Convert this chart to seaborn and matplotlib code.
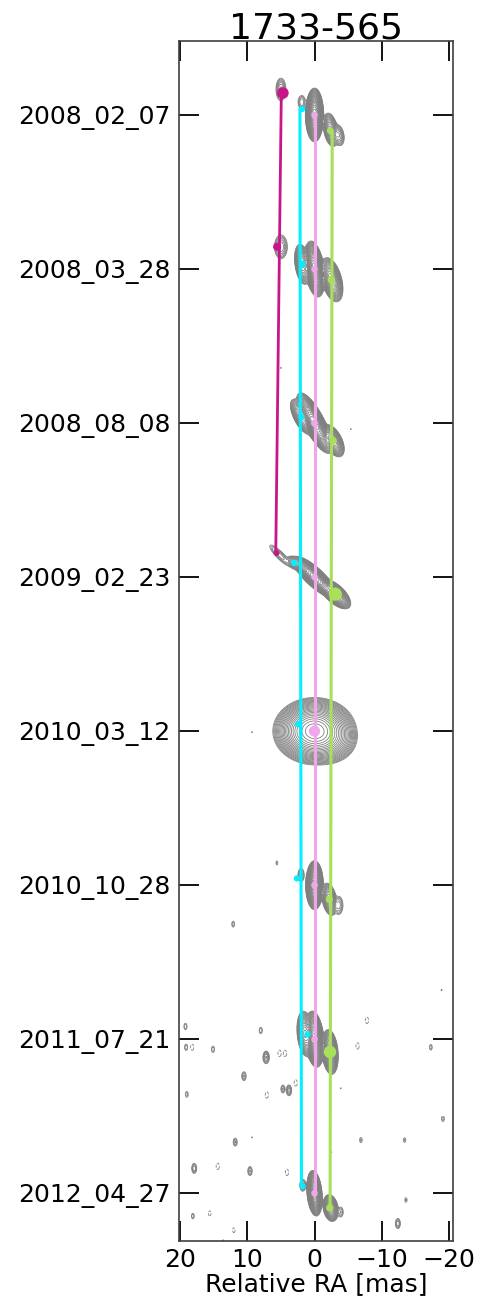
import numpy as np
import pandas as pd
import matplotlib
matplotlib.use("Agg")
import matplotlib.pyplot as plt
import seaborn as sns

# ---------------- data ----------------
source_name = "1733-565"
epoch_labels = ["2008_02_07", "2008_03_28", "2008_08_08", "2009_02_23",
                "2010_03_12", "2010_10_28", "2011_07_21", "2012_04_27"]
x_ticks = [20, 10, 0, -10, -20]
epoch_step = 22.9  # mas between stacked maps

# model-fit components (offsets in mas from each map centre), marker areas
mag_epoch = [0, 1, 3]
mag_dx = [4.71, 5.56, 5.65]
mag_dy = [3.27, 3.31, 3.57]
mag_size = [70, 35, 18]

cyan_epoch = [0, 1, 2, 3, 4, 5, 6, 7]
cyan_dx = [1.84, 1.78, 1.93, 3.03, 2.43, 2.63, 1.04, 1.78]
cyan_dy = [0.89, 0.70, 0.94, 2.10, 1.00, 1.00, 0.70, 1.04]
cyan_size = [20, 20, 20, 20, 20, 20, 20, 20]

pink_epoch = [0, 1, 2, 3, 4, 5, 6, 7]
pink_dx = [0, 0, 0, 0, 0, 0, 0, 0]
pink_dy = [0, 0, 0, 0, 0, 0, 0, 0]
pink_size = [22, 22, 25, 22, 65, 22, 22, 22]

green_epoch = [0, 1, 2, 3, 4, 5, 6, 7]
green_dx = [-2.32, -2.50, -2.77, -3.10, -2.32, -2.20, -2.30, -2.27]
green_dy = [-2.33, -1.59, -2.63, -2.53, -1.59, -2.10, -1.89, -2.18]
green_size = [22, 28, 28, 90, 5, 28, 80, 28]

# clean-image Gaussian components per epoch: epoch, dx, dy, peak, sigma_major, sigma_minor, PA(deg)
img_epoch = [0, 0, 0, 0, 0,
             1, 1, 1, 1,
             2, 2, 2, 2, 2,
             3, 3, 3, 3,
             4, 4, 4,
             5, 5, 5, 5, 5, 5,
             6, 6, 6, 6, 6, 6, 6, 6, 6, 6, 6, 6, 6, 6, 6, 6, 6, 6, 6, 6, 6, 6,
             7, 7, 7, 7, 7, 7, 7, 7, 7, 7, 7, 7, 7, 7, 7, 7, 7, 7, 7, 7]
img_dx = [0.0, -2.4, -3.6, 5.0, 1.9,
          0.0, 1.8, -2.55, 5.0,
          0.0, 1.93, -2.77, -5.4, 5.0,
          0.0, -3.1, 3.03, 5.1,
          0.0, -2.0, 9.3,
          0.0, -2.2, -3.6, 2.0, 5.6, 12.1,
          0.0, 1.4, -2.3, 19.2, 19.1, 18.2, 15.1, 8.0, 7.2, 5.2, 4.4, 10.5, 19.0, 7.1, 4.7, 3.8, 2.8,
          -7.8, -6.4, -17.3, -3.9, -18.9,
          0.0, 1.74, -2.4, -3.9, 17.9, 14.4, 9.6, 4.1, 18.1, -13.6, -12.4, 13.6, 11.8, 9.3,
          -19.1, -6.9, -13.4, -2.5, 15.6, 12.0]
img_dy = [0.0, -2.2, -3.0, 3.8, 1.9,
          0.0, 0.7, -1.6, 3.3,
          0.0, 0.94, -2.63, -0.9, 8.2,
          0.0, -2.53, 2.1, 3.2,
          0.0, -1.2, -0.15,
          0.0, -2.1, -3.0, 1.5, 3.3, -5.8,
          0.0, 0.8, -1.9, 1.9, -1.2, -1.2, -1.5, 1.3, -2.7, -2.1, -2.1, -5.5, -8.2, -8.3, -7.4, -7.6, -6.5,
          2.8, -1.0, -1.2, -7.3, 7.3,
          0.0, 1.2, -2.2, -2.8, 3.7, 4.0, 3.3, 3.1, -3.4, -1.0, -4.5, -7.0, 7.6, 8.3,
          11.1, 7.9, 7.9, 6.1, -3.0, -5.5]
img_peak = [3000, 80, 12, 9, 4,
            3000, 150, 300, 8,
            3000, 100, 200, 1.3, 1.3,
            2000, 300, 20, 5,
            3000, 150, 1.3,
            3000, 100, 5, 4, 1.5, 1.8,
            3000, 300, 500, 2, 2, -2, 2, 2, 6, -2, -2, 3, 1.8, -2, 3, 5, -2,
            -2, -2, 2, 1.3, 1.3,
            3000, 5, 200, 3, 4, -2, 3, -2, 2, 1.6, 4, 1.3, 3, 1.3,
            1.8, 1.6, 1.6, 1.3, -1.6, -1.5]
img_smaj = [1.0, 0.85, 0.7, 0.8, 0.6,
            1.05, 0.95, 1.0, 0.87,
            1.25, 0.95, 0.8, 0.12, 0.12,
            1.1, 0.85, 0.5, 1.2,
            1.55, 1.3, 0.12,
            0.91, 0.8, 0.75, 0.6, 0.35, 0.4,
            1.05, 1.0, 0.95, 0.4, 0.4, 0.4, 0.4, 0.4, 0.5, 0.4, 0.4, 0.45, 0.4, 0.4, 0.4, 0.45, 0.4,
            0.4, 0.4, 0.35, 0.12, 0.15,
            0.85, 0.5, 0.62, 0.5, 0.45, 0.4, 0.45, 0.4, 0.35, 0.35, 0.45, 0.12, 0.4, 0.12,
            0.4, 0.4, 0.35, 0.12, 0.4, 0.4]
img_smin = [0.34, 0.35, 0.35, 0.35, 0.33,
            0.36, 0.35, 0.44, 0.47,
            0.38, 0.38, 0.4, 0.1, 0.1,
            0.35, 0.4, 0.3, 0.3,
            1.25, 1.1, 0.1,
            0.33, 0.35, 0.35, 0.28, 0.15, 0.2,
            0.35, 0.35, 0.34, 0.2, 0.2, 0.2, 0.2, 0.2, 0.25, 0.2, 0.2, 0.22, 0.2, 0.2, 0.2, 0.22, 0.2,
            0.2, 0.2, 0.18, 0.1, 0.1,
            0.28, 0.25, 0.34, 0.25, 0.22, 0.2, 0.22, 0.2, 0.18, 0.18, 0.22, 0.1, 0.2, 0.1,
            0.2, 0.2, 0.18, 0.1, 0.2, 0.2]
img_pa = [0, 10, 10, 0, 0,
          8, 8, 15, 0,
          27, 27, 27, 0, 0,
          47, 47, 47, 45,
          90, 90, 0,
          0, 10, 0, 0, 0, 0,
          5, 5, 5, 0, 0, 0, 0, 0, 0, 0, 0, 0, 0, 0, 0, 0, 0,
          0, 0, 0, 0, 0,
          5, 0, 10, 0, 0, 0, 0, 0, 0, 0, 0, 0, 0, 0,
          0, 0, 0, 0, 0, 0]

# ---------------- styling ----------------
sns.set_style("white")
plt.rcParams['font.family'] = ['DejaVu Sans']
plt.rcParams.update({'text.color': 'black', 'axes.labelcolor': 'black',
                     'xtick.color': 'black', 'ytick.color': 'black'})

W, H = 487, 1304
fig = plt.figure(figsize=(W / 100, H / 100), dpi=100)
ax = fig.add_axes([179 / W, 1 - 1241 / H, (453 - 179) / W, (1241 - 41) / H])

# ---------------- contour maps ----------------
gx = np.linspace(-21, 21, 526)
gy = np.linspace(-epoch_step / 2, epoch_step / 2, 290)
GX, GY = np.meshgrid(gx, gy)
levels = [-1.0] + list(2.0 ** (np.arange(0, 24) / 2.0))

comp = pd.DataFrame(dict(epoch=img_epoch, dx=img_dx, dy=img_dy, peak=img_peak,
                         smaj=img_smaj, smin=img_smin, pa=img_pa))
for e in range(len(epoch_labels)):
    Z = np.zeros_like(GX)
    for _, c in comp[comp.epoch == e].iterrows():
        t = np.deg2rad(c.pa)
        u = (GX - c.dx) * np.sin(t) + (GY - c.dy) * np.cos(t)
        v = (GX - c.dx) * np.cos(t) - (GY - c.dy) * np.sin(t)
        Z += c.peak * np.exp(-0.5 * ((u / c.smaj) ** 2 + (v / c.smin) ** 2))
    ax.contour(GX, GY - e * epoch_step, Z, levels=levels, colors='#808080',
               linewidths=0.6, negative_linestyles='dashed', zorder=1)

# ---------------- component tracks ----------------
tracks = [
    ("mag", mag_epoch, mag_dx, mag_dy, mag_size, "#C8158A", 2.0),
    ("cyan", cyan_epoch, cyan_dx, cyan_dy, cyan_size, "#00F0FF", 2.2),
    ("pink", pink_epoch, pink_dx, pink_dy, pink_size, "#F0A6EA", 2.2),
    ("green", green_epoch, green_dx, green_dy, green_size, "#A8E05A", 2.2),
]
for name, ep, dx, dy, sz, col, lw in tracks:
    df = pd.DataFrame(dict(x=dx, y=-np.array(ep) * epoch_step + np.array(dy), s=sz))
    # linear fit of position along the stack
    b, a = np.polyfit(df.y, df.x, 1)
    yy = np.array([df.y.iloc[0], df.y.iloc[-1]])
    fit = pd.DataFrame(dict(x=a + b * yy, y=yy))
    sns.lineplot(data=fit, x="x", y="y", sort=False, estimator=None, color=col,
                 linewidth=lw, ax=ax, zorder=3)
    sns.scatterplot(data=df, x="x", y="y", s=df.s.values, color=col, edgecolor='none',
                    linewidth=0, ax=ax, zorder=4, legend=False)

# ---------------- axes ----------------
ax.set_xlim(20.16, -20.6)
ax.set_ylim(-(len(epoch_labels) - 1) * epoch_step - 7.1, 11.0)
ax.set_xticks(x_ticks)
ax.set_xticklabels([f"{t:d}".replace("-", "\u2212") for t in x_ticks])
ax.set_yticks([-i * epoch_step for i in range(len(epoch_labels))])
ax.set_yticklabels(epoch_labels)
ax.tick_params(axis='both', direction='in', length=14.5, width=1.3, color='black',
               labelsize=18, labelcolor='black', top=True, right=True, bottom=True, left=True)
ax.tick_params(axis='y', pad=6)
ax.tick_params(axis='x', pad=5)
for sp in ax.spines.values():
    sp.set_color('0.25')
    sp.set_linewidth(1.2)
ax.set_xlabel("Relative RA [mas]", fontsize=18, labelpad=0, color='black')
ax.set_ylabel("")
ax.set_title(source_name, fontsize=26, pad=2, color='black')

fig.savefig("out.png", dpi=100)
